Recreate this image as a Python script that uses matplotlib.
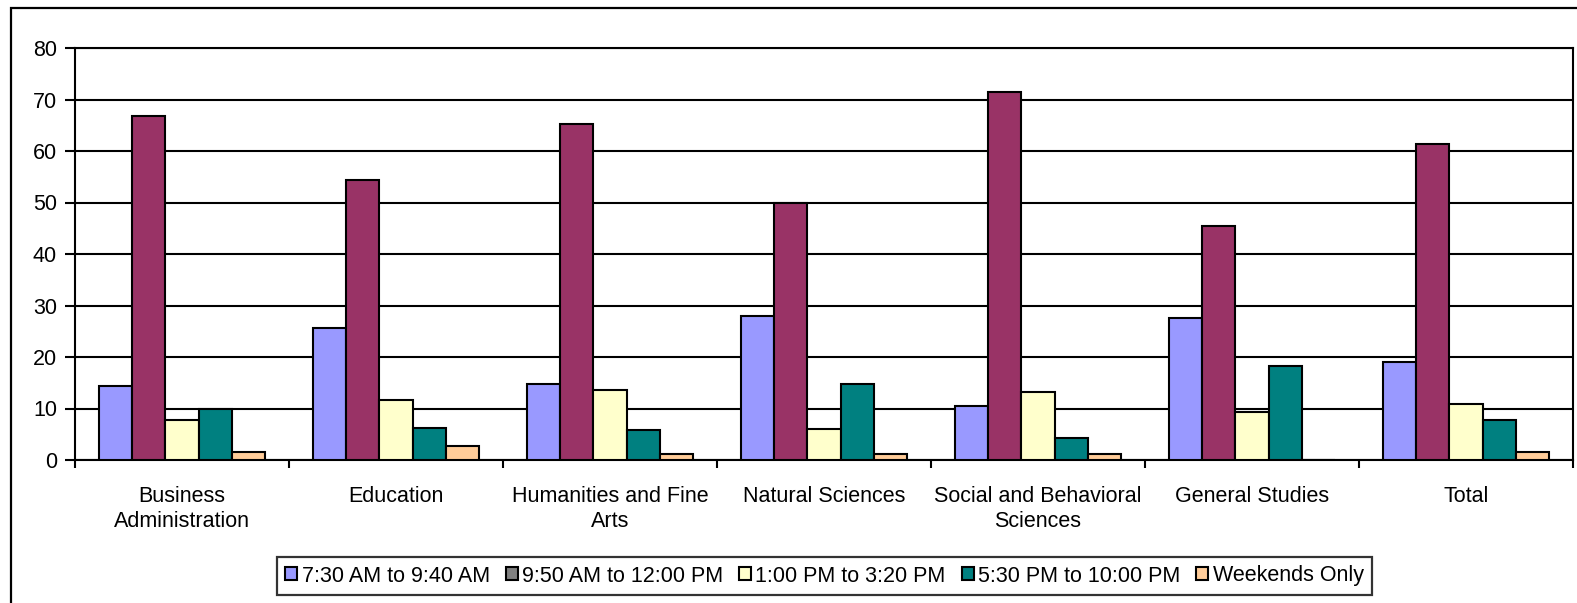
import matplotlib
matplotlib.use("Agg")
import matplotlib.pyplot as plt
import numpy as np
from matplotlib.patches import Rectangle, Patch

plt.rcParams['font.family'] = ['Liberation Sans', 'DejaVu Sans']

categories = ["Business\nAdministration", "Education", "Humanities and Fine\nArts",
              "Natural Sciences", "Social and Behavioral\nSciences", "General Studies", "Total"]
series_names = ["7:30 AM to 9:40 AM", "9:50 AM to 12:00 PM", "1:00 PM to 3:20 PM",
                "5:30 PM to 10:00 PM", "Weekends Only"]
s_early = [14.4, 25.6, 14.8, 28.0, 10.5, 27.6, 19.0]
s_morning = [66.8, 54.4, 65.3, 50.0, 71.5, 45.5, 61.4]
s_afternoon = [7.7, 11.6, 13.6, 6.1, 13.2, 9.3, 10.9]
s_evening = [10.0, 6.3, 5.8, 14.8, 4.3, 18.3, 7.8]
s_weekend = [1.5, 2.8, 1.2, 1.2, 1.2, 0.0, 1.5]
yticks = [0, 10, 20, 30, 40, 50, 60, 70, 80]

series = [s_early, s_morning, s_afternoon, s_evening, s_weekend]
colors = ["#9999FF", "#993366", "#FFFFCC", "#008080", "#FFCC99"]
legend_colors = ["#9999FF", "#808080", "#FFFFCC", "#008080", "#FFCC99"]

W, H = 1577, 603
fig = plt.figure(figsize=(W / 100, H / 100), dpi=100)

# outer chart frame
fig.patches.append(Rectangle((11 / W, -0.1), 1.2, (H - 8) / H + 0.1, transform=fig.transFigure,
                             fill=False, edgecolor='black', linewidth=1.6, zorder=0))

ax = fig.add_axes([75 / W, 1 - 460 / H, (1573 - 75) / W, (460 - 48) / H])

n = len(categories)
x = np.arange(n)
bw = 0.155
for i, (vals, c) in enumerate(zip(series, colors)):
    offs = (i - 2) * bw
    ax.bar(x + offs, vals, width=bw, color=c, edgecolor='black', linewidth=1.5, zorder=3)

ax.set_xlim(-0.5, n - 0.5)
ax.set_ylim(0, 80)
ax.set_yticks(yticks)
ax.set_yticklabels([str(v) for v in yticks], fontsize=15.5)
ax.yaxis.grid(True, color='black', linewidth=1.5, zorder=0)
ax.set_axisbelow(True)

ax.set_xticks(x)
ax.set_xticklabels(categories, fontsize=15.5, linespacing=1.2)
ax.set_xticks(np.arange(n + 1) - 0.5, minor=True)
ax.tick_params(axis='x', which='major', length=0, pad=19)
ax.tick_params(axis='x', which='minor', length=6, width=1.5, direction='out')
ax.tick_params(axis='y', length=7, width=1.5, direction='out', pad=6)

for sp in ax.spines.values():
    sp.set_linewidth(1.5)
    sp.set_color('black')

handles = [Patch(facecolor=c, edgecolor='black', linewidth=1.5) for c in legend_colors]
leg = fig.legend(handles, series_names, loc='center', bbox_to_anchor=(824.5 / W, 1 - 576 / H),
                 ncol=5, fontsize=15.5, frameon=True, fancybox=False, handlelength=0.55,
                 handleheight=0.55, handletextpad=0.2, columnspacing=0.75, borderpad=0.4,
                 borderaxespad=0)
leg.get_frame().set_edgecolor('black')
leg.get_frame().set_linewidth(1.6)

fig.savefig("out.png", dpi=100)
